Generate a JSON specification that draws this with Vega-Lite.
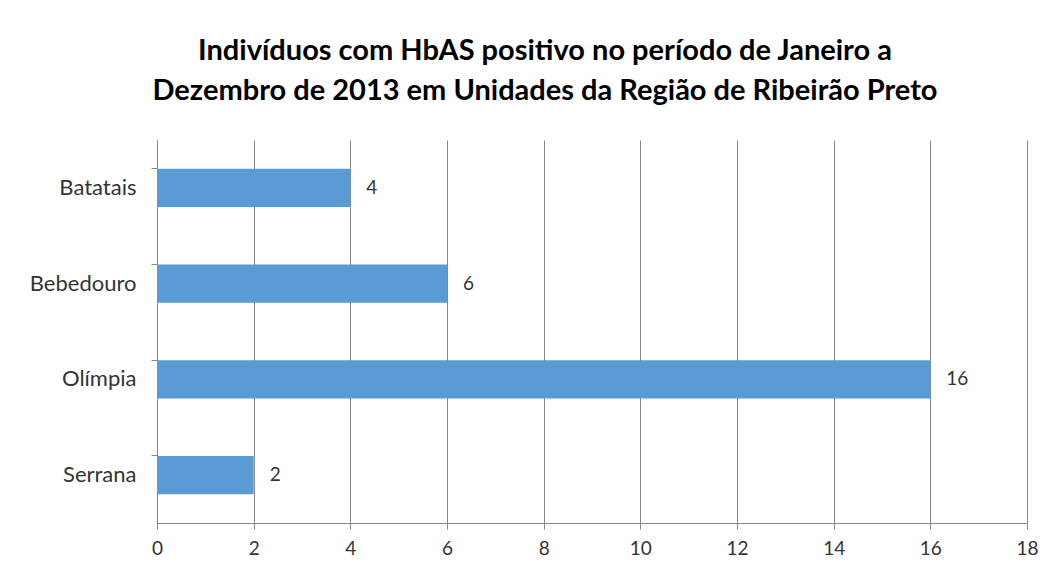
{
  "$schema": "https://vega.github.io/schema/vega-lite/v6.json",
  "width": 870,
  "height": 383,
  "autosize": {"type": "none"},
  "padding": {"left": 157, "top": 140, "right": 30, "bottom": 55},
  "background": "white",
  "title": {
    "text": ["Indivíduos com HbAS positivo no período de Janeiro a", "Dezembro de 2013 em Unidades da Região de Ribeirão Preto"],
    "font": "Lato",
    "fontSize": 29,
    "fontWeight": "bold",
    "color": "#000000",
    "lineHeight": 40,
    "anchor": "middle",
    "dx": -47,
    "offset": 34
  },
  "data": {
    "values": [
      {"unidade": "Batatais", "n": 4},
      {"unidade": "Bebedouro", "n": 6},
      {"unidade": "Olímpia", "n": 16},
      {"unidade": "Serrana", "n": 2}
    ]
  },
  "encoding": {
    "y": {
      "field": "unidade",
      "type": "nominal",
      "sort": null,
      "scale": {"paddingInner": 0.6, "paddingOuter": 0.3},
      "axis": {
        "title": null,
        "bandPosition": 0,
        "domainColor": "#868686",
        "tickColor": "#868686",
        "tickSize": 6,
        "labelPadding": 15,
        "labelFont": "Lato",
        "labelFontSize": 22,
        "labelColor": "#333333",
        "grid": false
      }
    },
    "x": {
      "field": "n",
      "type": "quantitative",
      "scale": {"domain": [0, 18], "nice": false},
      "axis": {
        "title": null,
        "values": [0, 2, 4, 6, 8, 10, 12, 14, 16, 18],
        "grid": true,
        "gridColor": "#868686",
        "gridWidth": 1,
        "domainColor": "#868686",
        "tickColor": "#868686",
        "tickSize": 6,
        "labelPadding": 10,
        "labelFlush": false,
        "labelFont": "Lato",
        "labelFontSize": 19,
        "labelColor": "#333333"
      }
    }
  },
  "layer": [
    {"mark": {"type": "bar", "color": "#5B9BD5"}},
    {
      "mark": {"type": "text", "align": "left", "dx": 16, "font": "Lato", "fontSize": 19, "color": "#333333"},
      "encoding": {"text": {"field": "n", "type": "quantitative"}}
    }
  ],
  "config": {"view": {"stroke": null}}
}
